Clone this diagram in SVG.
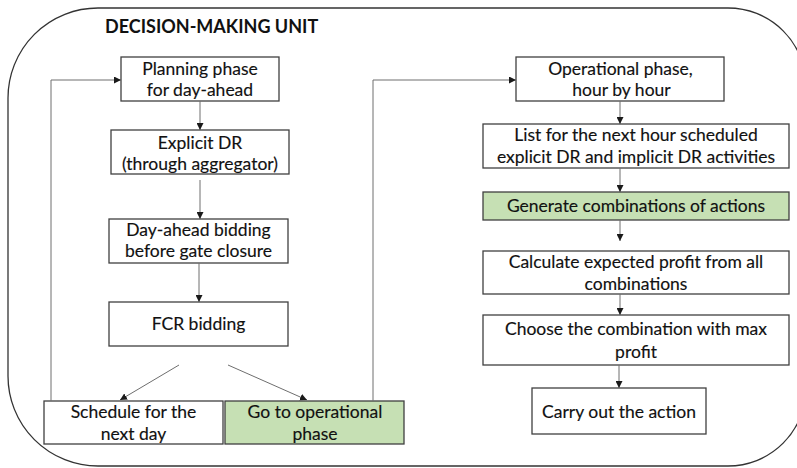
<svg xmlns="http://www.w3.org/2000/svg" width="797" height="468" viewBox="0 0 797 468">
  <defs>
    <marker id="arrow" viewBox="0 0 8 8" refX="8" refY="4" markerWidth="7" markerHeight="7" markerUnits="userSpaceOnUse" orient="auto">
      <path d="M0,0 L8,4 L0,8 Z" fill="#1a1a1a"/>
    </marker>
  </defs>
  <style>
    .frame { fill: #ffffff; stroke: #333333; stroke-width: 1.3; }
    .box { fill: #ffffff; stroke: #404040; stroke-width: 1.3; }
    .green { fill: #c6e0b4; stroke: #404040; stroke-width: 1.3; }
    .lbl { font-family: Lato, "Open Sans", "Liberation Sans", sans-serif; font-size: 17.5px; fill: #111111; stroke: #111111; stroke-width: 0.15; text-anchor: middle; }
    .title { font-family: Lato, "Open Sans", "Liberation Sans", sans-serif; font-size: 18px; font-weight: bold; fill: #111111; }
    .conn { fill: none; stroke: #6e6e6e; stroke-width: 1; }
  </style>

  <rect width="797" height="468" fill="#ffffff"/>

  <!-- enclosing decision-making unit -->
  <g id="unit">
    <path class="frame" d="M98 8 H728 A78 78 0 0 1 806 86 V388 A78 78 0 0 1 728 466 H98 A90 90 0 0 1 8 376 V98 A90 90 0 0 1 98 8 Z"/>
    <text class="title" x="105" y="33">DECISION-MAKING UNIT</text>
  </g>

  <!-- planning column -->
  <g id="planning">
    <rect class="box" x="121" y="57" width="158" height="44"/>
    <text class="lbl" x="200" y="75">Planning phase</text>
    <text class="lbl" x="200" y="96">for day-ahead</text>
  </g>
  <g id="explicit-dr">
    <rect class="box" x="111" y="130" width="178" height="44"/>
    <text class="lbl" x="200" y="149">Explicit DR</text>
    <text class="lbl" x="200" y="170">(through aggregator)</text>
  </g>
  <g id="day-ahead">
    <rect class="box" x="109" y="219" width="179" height="44"/>
    <text class="lbl" x="198.5" y="236">Day-ahead bidding</text>
    <text class="lbl" x="198.5" y="257">before gate closure</text>
  </g>
  <g id="fcr">
    <rect class="box" x="109" y="302" width="179" height="44"/>
    <text class="lbl" x="198.5" y="330">FCR bidding</text>
  </g>
  <g id="schedule">
    <rect class="box" x="44" y="401" width="179" height="43"/>
    <text class="lbl" x="133.5" y="418">Schedule for the</text>
    <text class="lbl" x="133.5" y="440">next day</text>
  </g>
  <g id="go-operational">
    <rect class="green" x="225" y="401" width="179" height="43"/>
    <text class="lbl" x="315" y="418">Go to operational</text>
    <text class="lbl" x="315" y="440">phase</text>
  </g>

  <!-- operational column -->
  <g id="operational">
    <rect class="box" x="516" y="57" width="208" height="44"/>
    <text class="lbl" x="620.5" y="75">Operational phase,</text>
    <text class="lbl" x="621.5" y="96">hour by hour</text>
  </g>
  <g id="list">
    <rect class="box" x="483" y="124" width="306" height="44"/>
    <text class="lbl" x="636" y="141">List for the next hour scheduled</text>
    <text class="lbl" x="636" y="163">explicit DR and implicit DR activities</text>
  </g>
  <g id="generate">
    <rect class="green" x="483" y="192" width="306" height="28"/>
    <text class="lbl" x="636" y="212">Generate combinations of actions</text>
  </g>
  <g id="calculate">
    <rect class="box" x="483" y="251" width="306" height="43"/>
    <text class="lbl" x="636" y="268">Calculate expected profit from all</text>
    <text class="lbl" x="636" y="290">combinations</text>
  </g>
  <g id="choose">
    <rect class="box" x="483" y="315" width="306" height="50"/>
    <text class="lbl" x="636" y="335">Choose the combination with max</text>
    <text class="lbl" x="636" y="358">profit</text>
  </g>
  <g id="carry-out">
    <rect class="box" x="532" y="388" width="174" height="46"/>
    <text class="lbl" x="619" y="418">Carry out the action</text>
  </g>

  <!-- connectors -->
  <g id="connectors">
    <line class="conn" x1="200" y1="101" x2="200" y2="130" marker-end="url(#arrow)"/>
    <line class="conn" x1="200" y1="180" x2="200" y2="219" marker-end="url(#arrow)"/>
    <line class="conn" x1="199" y1="263" x2="199" y2="302" marker-end="url(#arrow)"/>
    <line class="conn" x1="179" y1="365" x2="120" y2="400" marker-end="url(#arrow)"/>
    <line class="conn" x1="228" y1="365" x2="307" y2="400" marker-end="url(#arrow)"/>
    <polyline class="conn" points="51,401 51,80 121,80" marker-end="url(#arrow)"/>
    <polyline class="conn" points="373,401 373,80 516,80" marker-end="url(#arrow)"/>
    <line class="conn" x1="620" y1="101" x2="620" y2="124" marker-end="url(#arrow)"/>
    <line class="conn" x1="620" y1="168" x2="620" y2="192" marker-end="url(#arrow)"/>
    <line class="conn" x1="620" y1="220" x2="620" y2="241" marker-end="url(#arrow)"/>
    <line class="conn" x1="620" y1="294" x2="620" y2="315" marker-end="url(#arrow)"/>
    <line class="conn" x1="619" y1="365" x2="619" y2="388" marker-end="url(#arrow)"/>
  </g>
</svg>
